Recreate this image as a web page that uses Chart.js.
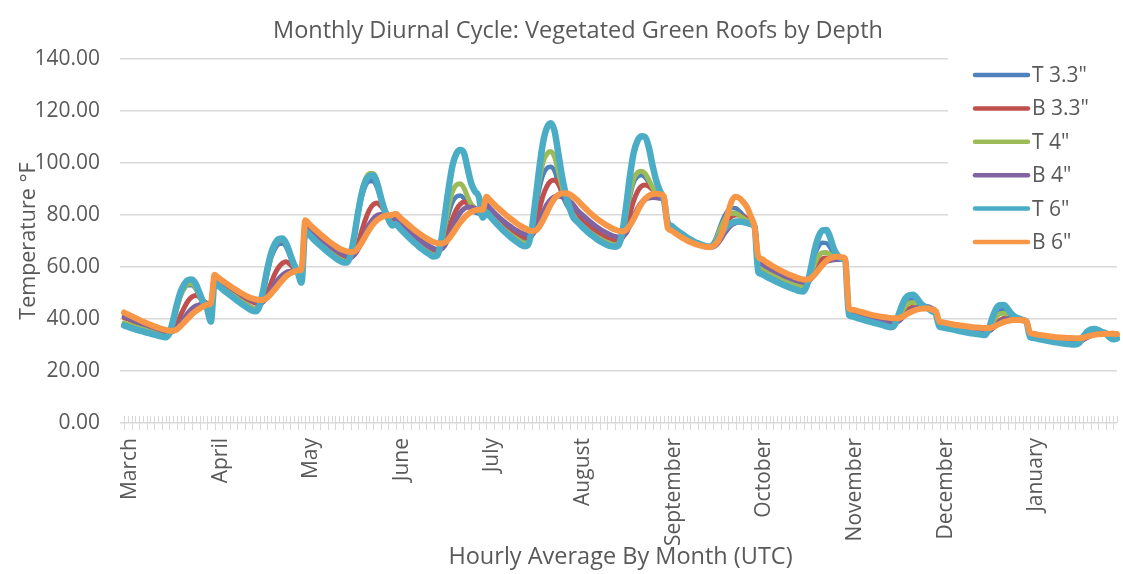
<!DOCTYPE html>
<html>
<head>
<meta charset="utf-8">
<script src="https://cdn.jsdelivr.net/npm/chart.js@4.4.1/dist/chart.umd.min.js"></script>
<style>
  body { margin: 0; background: #fff; }
  canvas { display: block; }
</style>
</head>
<body>
<canvas id="chart" width="1123" height="574"></canvas>
<script>
// 24 hourly averages (UTC) per month, March .. January
const months = ['March', 'April', 'May', 'June', 'July', 'August',
    'September', 'October', 'November', 'December', 'January'];

const seriesNames = ['T 3.3"', 'B 3.3"', 'T 4"', 'B 4"', 'T 6"', 'B 6"'];

const t33 = [
    38.0,37.5,37.0,36.6,36.2,35.8,35.4,35.0,34.7,34.4,34.1,34.0,35.0,39.0,44.5,49.0,51.8,53.0,53.0,51.5,48.5,46.0,45.0,42.0,
    55.0,53.8,52.6,51.4,50.3,49.2,48.1,47.1,46.1,45.2,44.4,44.0,45.8,51.0,57.5,63.5,67.0,68.8,69.0,67.5,64.0,61.0,58.5,55.5,
    75.0,73.5,72.0,70.6,69.3,68.0,66.8,65.7,64.6,63.7,63.0,62.7,64.8,71.5,80.0,87.0,91.3,93.0,93.0,90.5,86.0,82.0,79.0,77.0,
    77.0,75.6,74.2,72.8,71.5,70.2,69.0,67.9,66.9,66.0,65.3,65.2,68.0,74.5,80.5,85.0,87.0,87.5,86.5,84.0,82.0,81.0,80.5,79.5,
    82.0,80.4,78.8,77.3,75.9,74.6,73.4,72.3,71.3,70.4,69.7,69.8,74.0,82.0,90.0,95.5,98.0,98.6,97.0,92.5,88.0,84.5,82.0,80.0,
    78.0,76.6,75.3,74.1,73.0,72.0,71.1,70.3,69.6,69.1,68.8,69.2,72.5,79.5,87.0,92.5,94.8,95.3,94.5,92.5,90.0,88.0,86.5,85.5,
    76.5,75.3,74.2,73.2,72.2,71.3,70.5,69.8,69.2,68.6,68.2,68.0,69.0,72.0,76.0,79.5,81.8,82.7,82.6,81.5,80.0,78.5,77.5,76.0,
    59.5,58.7,57.9,57.1,56.4,55.7,55.0,54.4,53.8,53.2,52.7,52.2,52.0,54.0,59.0,64.5,68.0,69.3,69.2,67.5,65.0,63.8,63.2,62.7,
    42.0,41.5,41.0,40.5,40.1,39.7,39.3,38.9,38.5,38.1,37.8,37.5,37.9,40.5,43.8,46.3,47.5,47.6,46.8,45.5,44.6,44.0,43.2,42.3,
    37.3,37.0,36.7,36.4,36.1,35.8,35.5,35.2,34.9,34.7,34.5,34.3,34.2,35.8,39.5,42.3,43.5,43.6,42.6,41.2,40.4,40.0,39.6,39.0,
    33.3,33.0,32.7,32.4,32.1,31.8,31.6,31.4,31.2,31.0,30.8,30.7,30.6,31.0,32.6,34.2,35.0,35.2,35.0,34.6,34.2,33.8,33.5,33.3
];

const b33 = [
    40.5,40.0,39.4,38.8,38.3,37.8,37.3,36.8,36.3,35.8,35.3,34.9,34.6,35.5,38.0,41.5,44.5,47.0,48.5,49.0,48.5,47.0,46.0,45.0,
    56.0,54.9,53.8,52.7,51.7,50.7,49.8,48.9,48.1,47.3,46.6,46.0,45.8,47.0,50.0,54.0,57.5,60.0,61.5,62.0,61.0,59.5,58.5,58.0,
    76.0,74.6,73.2,71.9,70.6,69.4,68.3,67.2,66.2,65.3,64.5,63.9,63.6,65.0,69.0,74.0,78.5,82.0,84.0,84.6,83.5,81.5,80.0,79.0,
    78.0,76.6,75.2,73.9,72.6,71.4,70.3,69.3,68.3,67.4,66.7,66.3,66.8,69.5,74.0,78.5,82.0,84.0,85.0,84.8,83.8,82.5,81.5,80.5,
    83.0,81.5,80.0,78.6,77.3,76.1,75.0,74.0,73.0,72.1,71.4,71.0,72.0,76.0,82.0,87.5,91.0,93.0,93.5,92.0,89.5,87.0,85.0,83.0,
    80.0,78.6,77.3,76.0,74.9,73.9,73.0,72.2,71.5,70.9,70.4,70.2,71.2,75.0,80.5,85.5,89.0,91.0,91.5,91.0,89.8,88.5,87.3,86.5,
    76.0,74.8,73.7,72.7,71.7,70.9,70.1,69.4,68.8,68.3,67.9,67.7,68.0,69.8,72.5,75.5,78.0,79.5,80.0,80.0,79.3,78.5,77.5,76.0,
    62.5,61.6,60.7,59.8,59.0,58.2,57.5,56.8,56.2,55.6,55.0,54.5,54.2,54.8,57.0,59.8,62.0,63.2,63.5,63.4,63.2,63.0,62.9,62.8,
    43.0,42.5,42.0,41.5,41.1,40.7,40.3,39.9,39.5,39.2,38.9,38.6,38.5,39.2,41.0,42.8,44.0,44.8,45.0,45.0,44.8,44.5,43.8,42.8,
    38.0,37.7,37.4,37.1,36.8,36.5,36.2,35.9,35.6,35.4,35.2,35.0,34.9,35.3,36.7,38.3,39.5,40.2,40.5,40.5,40.3,40.0,39.6,39.0,
    33.8,33.5,33.2,32.9,32.6,32.4,32.2,32.0,31.8,31.6,31.4,31.3,31.2,31.3,32.0,33.0,33.7,34.1,34.3,34.3,34.2,34.0,33.8,33.6
];

const t4 = [
    38.5,38.0,37.5,37.0,36.6,36.2,35.8,35.4,35.0,34.7,34.4,34.2,35.0,38.5,44.0,49.0,52.0,53.5,53.6,52.0,49.0,46.5,45.2,42.5,
    54.8,53.6,52.4,51.2,50.1,49.0,47.9,46.9,45.9,45.0,44.2,43.8,45.8,51.5,58.5,64.5,68.3,70.2,70.5,68.8,65.0,61.5,58.5,55.0,
    74.5,73.0,71.5,70.1,68.8,67.5,66.3,65.2,64.1,63.2,62.5,62.2,64.5,72.0,81.5,89.5,94.0,96.0,96.0,93.0,87.5,82.5,79.0,76.5,
    76.8,75.3,73.8,72.4,71.0,69.7,68.5,67.3,66.2,65.3,64.6,64.7,68.5,76.0,83.5,89.0,91.5,92.0,90.5,87.0,84.0,82.5,81.5,79.5,
    81.5,79.9,78.3,76.8,75.4,74.1,72.9,71.8,70.8,69.9,69.2,69.4,74.5,84.0,93.5,100.5,103.5,104.4,102.5,97.0,91.0,86.0,82.5,80.0,
    77.8,76.4,75.1,73.9,72.8,71.8,70.9,70.1,69.4,68.9,68.6,69.0,72.8,80.5,88.5,94.0,96.3,96.8,96.0,93.5,90.5,88.0,86.5,85.5,
    76.3,75.1,74.0,73.0,72.0,71.1,70.3,69.6,69.0,68.4,68.0,67.8,68.6,71.2,74.8,78.0,80.0,80.7,80.6,79.8,78.8,77.8,77.0,75.8,
    60.5,59.7,58.9,58.1,57.3,56.6,55.9,55.2,54.6,54.0,53.5,53.0,52.8,54.0,57.5,61.5,64.3,65.5,65.6,64.8,63.8,63.3,63.0,62.7,
    42.3,41.8,41.3,40.8,40.4,40.0,39.6,39.2,38.8,38.4,38.1,37.8,38.0,40.0,42.8,45.0,46.2,46.3,45.8,45.0,44.4,44.0,43.3,42.5,
    37.5,37.2,36.9,36.6,36.3,36.0,35.7,35.4,35.1,34.9,34.7,34.5,34.4,35.5,38.5,40.8,42.0,42.2,41.6,40.8,40.2,39.9,39.6,39.0,
    33.5,33.2,32.9,32.6,32.3,32.0,31.8,31.6,31.4,31.2,31.0,30.9,30.8,31.1,32.4,33.8,34.6,34.9,34.8,34.5,34.2,33.9,33.6,33.4
];

const b4 = [
    41.0,40.4,39.8,39.2,38.6,38.1,37.6,37.1,36.6,36.1,35.6,35.2,35.0,35.3,36.5,38.5,40.5,42.5,44.0,45.0,45.5,45.8,46.0,46.0,
    56.5,55.4,54.3,53.2,52.2,51.2,50.3,49.4,48.6,47.9,47.2,46.7,46.4,46.8,48.5,51.0,53.5,55.5,57.0,58.0,58.3,58.5,58.5,58.5,
    76.5,75.1,73.7,72.4,71.1,69.9,68.8,67.7,66.7,65.8,65.0,64.4,64.1,64.6,66.8,70.0,73.5,76.5,78.5,79.8,80.2,80.2,79.8,79.5,
    78.5,77.1,75.7,74.4,73.1,71.9,70.8,69.8,68.8,67.9,67.2,66.8,66.9,68.3,71.5,75.0,78.3,80.8,82.3,83.0,83.0,82.5,82.0,81.5,
    84.0,82.5,81.0,79.6,78.3,77.1,76.0,75.0,74.1,73.3,72.6,72.2,72.4,74.0,77.5,81.0,84.0,86.0,87.0,87.3,87.0,86.3,85.3,84.0,
    82.0,80.6,79.3,78.0,76.8,75.7,74.7,73.8,73.0,72.3,71.8,71.5,71.7,73.0,76.0,79.5,82.5,84.8,86.0,86.5,86.7,86.6,86.4,86.0,
    75.8,74.6,73.5,72.5,71.6,70.8,70.0,69.3,68.7,68.2,67.8,67.6,67.7,68.6,70.5,72.8,74.8,76.2,77.0,77.3,77.3,77.0,76.6,76.0,
    62.0,61.1,60.2,59.4,58.6,57.9,57.2,56.5,55.9,55.3,54.8,54.4,54.1,54.3,55.5,57.5,59.5,61.0,62.0,62.5,62.8,62.9,62.9,62.8,
    43.2,42.7,42.2,41.7,41.3,40.9,40.5,40.1,39.7,39.4,39.1,38.8,38.7,39.0,40.2,41.7,43.0,43.9,44.4,44.7,44.8,44.7,44.0,43.0,
    38.2,37.9,37.6,37.3,37.0,36.7,36.4,36.1,35.8,35.6,35.4,35.2,35.1,35.3,36.2,37.6,38.8,39.6,40.1,40.3,40.3,40.3,39.8,39.1,
    34.0,33.7,33.4,33.1,32.8,32.6,32.4,32.2,32.0,31.8,31.6,31.5,31.4,31.5,32.0,32.8,33.5,34.0,34.3,34.4,34.4,34.3,34.1,33.9
];

const t6 = [
    37.5,37.0,36.5,36.0,35.6,35.2,34.8,34.4,34.0,33.6,33.2,33.0,34.5,39.5,45.5,50.5,53.5,55.0,55.2,53.5,50.0,46.5,44.0,39.0,
    54.0,52.8,51.6,50.4,49.3,48.2,47.1,46.0,45.0,44.0,43.2,43.0,45.5,52.0,59.5,65.5,69.0,70.8,71.0,69.0,65.0,61.0,58.0,54.0,
    74.0,72.5,71.0,69.6,68.3,67.0,65.8,64.6,63.5,62.5,61.8,61.7,64.5,72.0,81.0,88.5,93.0,95.0,95.2,92.5,87.0,82.0,78.5,76.0,
    76.5,75.0,73.5,72.0,70.6,69.3,68.0,66.8,65.7,64.8,64.0,64.5,70.0,80.0,90.5,99.0,103.5,105.0,104.0,98.0,92.0,89.0,87.0,79.0,
    81.0,79.4,77.8,76.2,74.7,73.3,72.0,70.8,69.7,68.7,68.0,68.5,74.5,86.0,98.0,108.0,113.5,115.3,112.5,104.0,95.0,88.0,83.0,79.0,
    77.5,76.0,74.6,73.3,72.1,71.0,70.0,69.2,68.5,68.0,67.8,68.5,73.5,83.5,95.0,104.0,108.5,110.3,110.0,106.0,99.0,93.0,89.0,86.0,
    77.0,75.8,74.6,73.5,72.5,71.5,70.6,69.8,69.1,68.5,68.0,67.8,68.3,70.0,72.5,74.5,76.0,77.0,77.5,77.5,77.3,77.0,76.5,75.5,
    58.0,57.2,56.4,55.6,54.9,54.2,53.5,52.9,52.3,51.7,51.2,50.7,50.6,53.5,60.0,67.0,71.8,74.0,74.2,71.5,67.0,64.5,63.3,62.5,
    41.5,41.0,40.5,40.0,39.6,39.2,38.8,38.4,38.0,37.6,37.2,36.8,37.5,41.0,45.0,48.0,49.2,49.3,48.0,46.0,44.8,44.0,43.0,42.0,
    37.0,36.7,36.4,36.1,35.8,35.5,35.2,34.9,34.6,34.4,34.2,34.0,33.8,36.0,40.5,44.0,45.3,45.4,44.0,42.0,40.8,40.2,39.6,39.0,
    33.0,32.7,32.4,32.1,31.8,31.5,31.2,31.0,30.8,30.6,30.4,30.2,30.2,30.8,33.0,35.0,36.0,36.2,35.8,35.0,34.5,33.0,32.2,32.5
];

const b6 = [
    42.5,41.8,41.1,40.4,39.7,39.0,38.4,37.8,37.2,36.7,36.2,35.8,35.5,35.5,36.0,37.3,38.8,40.3,41.8,43.0,44.0,44.8,45.5,46.0,
    57.0,55.9,54.8,53.8,52.8,51.8,50.9,50.0,49.2,48.5,47.9,47.5,47.3,47.4,48.3,49.8,51.5,53.3,55.0,56.5,57.5,58.2,58.7,59.0,
    78.0,76.6,75.2,73.9,72.6,71.4,70.2,69.1,68.1,67.2,66.5,66.0,65.8,66.0,67.3,69.5,72.0,74.5,76.5,78.0,79.0,79.6,79.9,80.0,
    80.5,79.2,77.9,76.6,75.4,74.2,73.1,72.1,71.1,70.3,69.6,69.2,69.0,69.4,70.8,72.8,75.0,77.0,78.8,80.2,81.2,81.8,82.0,82.0,
    87.0,85.6,84.2,82.8,81.5,80.2,79.0,77.9,76.8,75.8,75.0,74.3,73.8,74.0,75.5,78.0,81.0,84.0,86.3,87.7,88.3,88.4,88.0,87.0,
    85.8,84.3,82.8,81.4,80.1,78.9,77.8,76.8,75.9,75.1,74.4,73.9,73.7,74.3,76.0,78.5,81.5,84.2,86.2,87.4,88.0,88.2,88.0,87.2,
    75.0,74.0,73.0,72.0,71.1,70.3,69.6,69.0,68.5,68.1,67.8,67.6,68.0,69.3,71.8,75.5,81.0,85.5,87.0,86.5,85.0,83.0,79.5,75.5,
    64.0,63.0,62.0,61.1,60.2,59.4,58.6,57.9,57.2,56.6,56.0,55.5,55.2,55.2,55.8,57.2,59.0,60.8,62.3,63.3,63.8,64.0,63.8,63.3,
    44.0,43.6,43.2,42.8,42.4,42.0,41.6,41.3,41.0,40.8,40.6,40.4,40.3,40.3,40.8,41.6,42.4,43.1,43.6,43.9,44.0,44.0,43.6,43.0,
    39.0,38.7,38.4,38.1,37.8,37.6,37.4,37.2,37.0,36.8,36.7,36.6,36.5,36.5,36.9,37.5,38.2,38.8,39.2,39.5,39.6,39.6,39.5,39.1,
    34.6,34.3,34.0,33.8,33.6,33.4,33.2,33.0,32.9,32.8,32.7,32.7,32.6,32.6,32.8,33.2,33.6,33.9,34.1,34.2,34.3,34.3,34.3,34.2
];

const yTicks = [0, 20, 40, 60, 80, 100, 120, 140];

const colors = ['#4F81BD', '#C0504D', '#9BBB59', '#8064A2', '#4BACC6', '#F79646'];
const widths = [4.5, 5, 5, 5, 6.5, 6];

// one category per hour, month name on the first hour only
const labels = [];
months.forEach(m => {
    for (let h = 0; h < 24; h++) labels.push(h === 0 ? m : '');
});

const chartTitle = 'Monthly Diurnal Cycle: Vegetated Green Roofs by Depth';
const textColor = '#595959';
const gridColor = '#d9d9d9';
Chart.defaults.font.family = "'Open Sans', sans-serif";
Chart.defaults.color = textColor;

// small tick marks along the category axis
const axisTicks = {
    id: 'axisTicks',
    beforeDatasetsDraw(chart) {
        const { ctx, chartArea } = chart;
        const x = chart.scales.x;
        ctx.save();
        ctx.strokeStyle = gridColor;
        ctx.lineWidth = 1;
        ctx.beginPath();
        for (let i = 0; i < labels.length; i++) {
            const px = Math.round(x.getPixelForValue(i)) + 0.5;
            ctx.moveTo(px, chartArea.bottom - 7);
            ctx.lineTo(px, chartArea.bottom + (i % 2 === 0 ? 7 : 0));
        }
        ctx.stroke();
        ctx.restore();
    }
};

// title is a bit left of centre in the original, so draw it here
const topTitle = {
    id: 'topTitle',
    afterDraw(chart) {
        const ctx = chart.ctx;
        ctx.save();
        ctx.font = "23.5px 'Open Sans'";
        ctx.fillStyle = textColor;
        ctx.textAlign = 'center';
        ctx.textBaseline = 'middle';
        ctx.fillText(chartTitle, 578, 31);
        ctx.restore();
    }
};

// legend sits over the top right corner of the plot
const sideLegend = {
    id: 'sideLegend',
    beforeDatasetsDraw(chart) {
        const ctx = chart.ctx;
        ctx.save();
        ctx.fillStyle = '#fff';
        ctx.fillRect(948, 50, 175, 205);
        ctx.font = "21px 'Open Sans'";
        ctx.textBaseline = 'middle';
        ctx.textAlign = 'left';
        ctx.lineCap = 'round';
        seriesNames.forEach((name, i) => {
            const y = 75 + i * 33.4;
            ctx.strokeStyle = colors[i];
            ctx.lineWidth = 4.5;
            ctx.beginPath();
            ctx.moveTo(975, y);
            ctx.lineTo(1028, y);
            ctx.stroke();
            ctx.fillStyle = textColor;
            ctx.fillText(name, 1032, y + 1);
        });
        ctx.restore();
    }
};

const seriesData = [t33, b33, t4, b4, t6, b6];

new Chart(document.getElementById('chart'), {
    type: 'line',
    data: {
        labels: labels,
        datasets: seriesData.map((d, i) => ({
            label: seriesNames[i],
            data: d,
            borderColor: colors[i],
            backgroundColor: colors[i],
            borderWidth: widths[i],
            pointRadius: 0,
            cubicInterpolationMode: 'monotone',
            borderCapStyle: 'round',
            borderJoinStyle: 'round',
            order: seriesData.length - i
        }))
    },
    options: {
        responsive: false,
        animation: false,
        layout: { padding: { left: 0, right: 6, top: 59, bottom: 0 } },
        plugins: {
            legend: { display: false },
            tooltip: { enabled: false },
            title: { display: false }
        },
        scales: {
            x: {
                offset: false,
                grid: { display: false, drawTicks: false },
                border: { display: false },
                ticks: {
                    autoSkip: false,
                    minRotation: 90,
                    maxRotation: 90,
                    padding: 15,
                    labelOffset: 6,
                    color: textColor,
                    font: { size: 21 }
                },
                title: {
                    display: true,
                    text: 'Hourly Average By Month (UTC)',
                    color: textColor,
                    font: { size: 23.5 },
                    padding: { top: 0, bottom: 3 }
                },
                afterFit(scale) {
                    scale.height = 151;
                    scale.paddingLeft = 0;
                    scale.paddingRight = 0;
                }
            },
            y: {
                min: 0,
                max: 140,
                afterBuildTicks(scale) {
                    scale.ticks = yTicks.map(v => ({ value: v }));
                },
                grid: { color: gridColor, lineWidth: 1.5, drawTicks: true, tickLength: 4, tickColor: gridColor },
                border: { display: false },
                ticks: {
                    padding: 20,
                    color: textColor,
                    font: { size: 21 },
                    callback: v => v.toFixed(2)
                },
                title: {
                    display: true,
                    text: 'Temperature °F',
                    color: textColor,
                    font: { size: 21.5 },
                    padding: { top: 16, bottom: 0 }
                },
                afterFit(scale) {
                    scale.width = 124;
                    scale.paddingTop = 0;
                    scale.paddingBottom = 0;
                }
            }
        }
    },
    plugins: [axisTicks, sideLegend, topTitle]
});
</script>
</body>
</html>
